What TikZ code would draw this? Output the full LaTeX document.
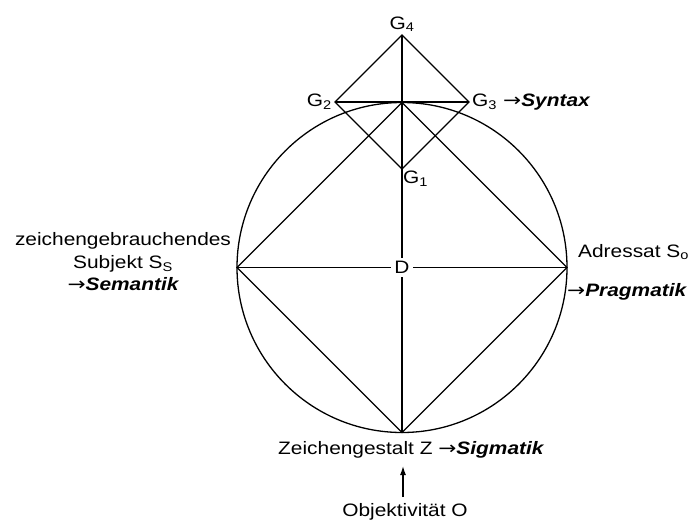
\documentclass[tikz,border=0pt]{standalone}
\usepackage{fontspec}
\setmainfont{Liberation Sans}[FakeStretch=1.16]
\newfontfamily\arrfont{DejaVu Sans}[FakeStretch=1.2]
\newcommand{\ra}{{\arrfont →}}
\usetikzlibrary{arrows.meta}
\begin{document}
\begin{tikzpicture}[x=1pt,y=-1pt,
  ln/.style={line width=1.3pt,black},
  lbl/.style={inner sep=0pt,font=\fontsize{18}{22.5}\selectfont}]
\useasboundingbox (0,0) rectangle (692,522);
\coordinate (C) at (402,267.5);
\coordinate (T) at (402,102.5);
\coordinate (L) at (237,267.5);
\coordinate (R) at (567,267.5);
\coordinate (B) at (402,432.5);
\coordinate (G4) at (402,35);
\coordinate (G2) at (335,102);
\coordinate (G3) at (469,102);
\coordinate (G1) at (402,169);
\draw[ln] (C) circle (165);
\draw[ln] (T) -- (R) -- (B) -- (L) -- cycle;
\draw[ln] (G4) -- (G2) -- (G1) -- (G3) -- cycle;
\draw[ln] (G2) -- (G3);
\draw[ln] (L) -- (R);
\draw[ln] (G4) -- (B);
\node[lbl,fill=white,inner sep=3pt] (D) at (C) {D};
\node[lbl,anchor=south] (g4) at (402,32) {G\textsubscript{4}};
\node[lbl,anchor=east] (g2) at (332,102) {G\textsubscript{2}};
\node[lbl,anchor=west] (g3) at (472,102) {G\textsubscript{3}};
\node[lbl,anchor=north west] (g1) at (403,171) {G\textsubscript{1}};
\node[lbl,anchor=west] (syn) at (503,102) {\ra\textbf{\textit{Syntax}}};
\node[lbl,align=center] (subj) at (123,262) {zeichengebrauchendes\\Subjekt S\textsubscript{S}\\{\ra\bfseries\itshape Semantik}};
\node[lbl,anchor=west] (adr) at (578,252) {Adressat S\textsubscript{o}};
\node[lbl,anchor=west] (prag) at (567,292) {\ra\textbf{\textit{Pragmatik}}};
\node[lbl,anchor=west] (zg) at (278,450) {Zeichengestalt Z \ra\textbf{\textit{Sigmatik}}};
\node[lbl] (obj) at (405,512) {Objektivität O};
\draw[ln,-{Latex[length=9pt,width=6pt]}] (403,497) -- (403,466);
\end{tikzpicture}
\end{document}
